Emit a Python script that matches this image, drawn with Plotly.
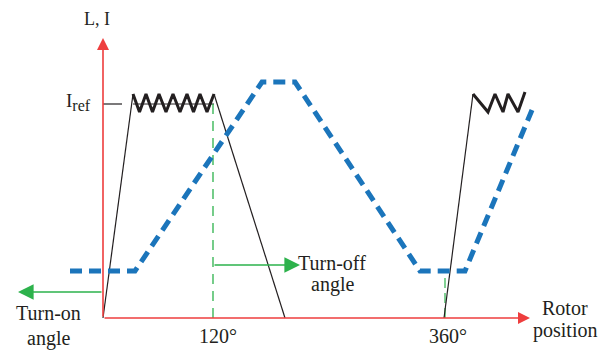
import plotly.graph_objects as go

# Schematic coordinates (origin = intersection of the axes)
# Inductance profile L (blue dashed)
L_x = [-33, 32, 159, 192, 317, 362, 429]
L_y = [47, 47, 236, 236, 47, 47, 208]

# Phase current pulse 1 (rise, hysteresis chopping, fall)
I1_rise_x = [0, 30]
I1_rise_y = [0, 224]
I1_chop_x = [30, 36.5, 43, 49.5, 56, 63, 70, 77, 84, 90.5, 97, 104, 111]
I1_chop_y = [224, 206, 224, 206, 224, 206, 224, 206, 224, 206, 224, 206, 224]
I1_fall_x = [111, 182]
I1_fall_y = [224, 0]

# Phase current pulse 2
I2_rise_x = [341, 370]
I2_rise_y = [0, 224]
I2_chop_x = [370, 385, 392, 400, 405, 415, 422]
I2_chop_y = [224, 206, 224, 206, 224, 206, 226]

I_ref = 214
turn_off_x = 110
period_x = 341

BLACK = "#231f20"
BLUE = "#1b75bb"
GREEN = "#2db24c"
RED = "#ee3e3e"
FONT = "Liberation Serif, Times New Roman, serif"

fig = go.Figure()

# Iref reference level line across chopping band
fig.add_trace(go.Scatter(x=[0, 19], y=[I_ref, I_ref], mode="lines",
                         line=dict(color=BLACK, width=1.2), hoverinfo="skip"))
fig.add_trace(go.Scatter(x=[I1_chop_x[0], I1_chop_x[-1]], y=[I_ref, I_ref], mode="lines",
                         line=dict(color=BLACK, width=1), hoverinfo="skip"))

# Green dashed verticals
fig.add_trace(go.Scatter(x=[turn_off_x, turn_off_x], y=[0, 218], mode="lines",
                         line=dict(color=GREEN, width=1.3, dash="10px,7px"), hoverinfo="skip"))
fig.add_trace(go.Scatter(x=[period_x + 1, period_x + 1], y=[0, 47], mode="lines",
                         line=dict(color=GREEN, width=1.2, dash="10px,5px"), hoverinfo="skip"))

# Current
for xs, ys, w in [(I1_rise_x, I1_rise_y, 1.2), (I1_fall_x, I1_fall_y, 1.2),
                  (I2_rise_x, I2_rise_y, 1.2),
                  (I1_chop_x, I1_chop_y, 3), (I2_chop_x, I2_chop_y, 3)]:
    fig.add_trace(go.Scatter(x=xs, y=ys, mode="lines",
                             line=dict(color=BLACK, width=w), hoverinfo="skip"))

# Inductance
fig.add_trace(go.Scatter(x=L_x, y=L_y, mode="lines",
                         line=dict(color=BLUE, width=5, dash="12px,7px"), hoverinfo="skip"))

anns = []
# Axes arrows (red)
anns.append(dict(x=427, y=0, ax=0, ay=0, xref="x", yref="y", axref="x", ayref="y",
                 text="", showarrow=True, arrowhead=2, arrowsize=1.5, arrowwidth=1.6,
                 arrowcolor=RED))
anns.append(dict(x=0, y=280, ax=0, ay=0, xref="x", yref="y", axref="x", ayref="y",
                 text="", showarrow=True, arrowhead=2, arrowsize=1.5, arrowwidth=1.6,
                 arrowcolor=RED))
# Green arrows
anns.append(dict(x=197, y=53, ax=turn_off_x, ay=53, xref="x", yref="y", axref="x", ayref="y",
                 text="", showarrow=True, arrowhead=2, arrowsize=2.4, arrowwidth=1.3,
                 arrowcolor=GREEN))
anns.append(dict(x=-85, y=26, ax=0, ay=26, xref="x", yref="y", axref="x", ayref="y",
                 text="", showarrow=True, arrowhead=2, arrowsize=2.4, arrowwidth=1.3,
                 arrowcolor=GREEN))

def txt(x, y, s, size=20, xanchor="center"):
    anns.append(dict(x=x, y=y, xref="x", yref="y", text=s, showarrow=False,
                     xanchor=xanchor, yanchor="middle",
                     font=dict(family=FONT, size=size, color=BLACK)))

txt(-6, 299, "L, I", 18)
txt(-10, 216, "I<sub><span style='font-size:16px'>ref</span></sub>", 19, xanchor="right")
txt(-55, 5, "Turn-on", 20)
txt(-55, -20, "angle", 20)
txt(229, 55, "Turn-off", 20)
txt(229, 34, "angle", 20)
txt(115, -18, "120°", 20)
txt(345, -18, "360°", 20)
txt(462, 10, "Rotor", 20)
txt(462, -12, "position", 20)

fig.update_layout(
    width=598, height=351,
    margin=dict(l=0, r=0, t=0, b=0),
    paper_bgcolor="white", plot_bgcolor="white",
    showlegend=False,
    font=dict(family=FONT, color=BLACK),
    xaxis=dict(range=[-103, 495], visible=False, fixedrange=True),
    yaxis=dict(range=[-33, 318], visible=False, fixedrange=True),
    annotations=anns,
)

fig.write_html("out.html")
